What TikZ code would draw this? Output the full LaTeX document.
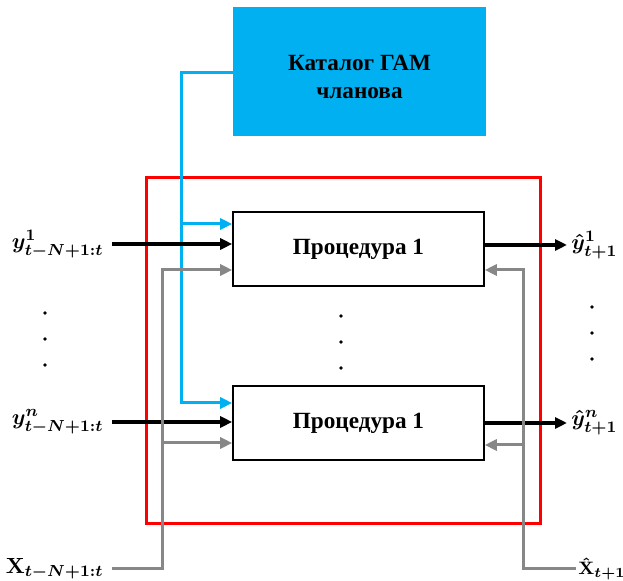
\documentclass[tikz,border=0pt]{standalone}
\usepackage{amsmath}
\usepackage{fontspec}
\setmainfont{Liberation Serif}
\usepackage{tikz}
\usetikzlibrary{arrows.meta,positioning,calc}
\usepackage{xcolor}
\definecolor{catblue}{HTML}{00B0F0}
\definecolor{linegray}{HTML}{878787}
\definecolor{framered}{HTML}{FF0000}
\tikzset{
  procbox/.style={
    draw=black,
    thick,
    fill=white,
    minimum width=125.5pt,
    minimum height=37pt,
    inner sep=0pt,
    align=center,
    font=\fontsize{11.6}{13}\selectfont\bfseries
  },
  catbox/.style={
    fill=catblue,
    minimum width=126.5pt,
    minimum height=64.5pt,
    inner sep=0pt
  },
  cattext/.style={
    align=center,
    yshift=-2.5pt,
    font=\fontsize{11.6}{14}\selectfont\bfseries
  },
  sig/.style={
    font=\fontsize{11}{13}\selectfont\boldmath,
    inner sep=0pt
  },
  arrow/.style={
    -{Triangle[length=6pt,width=5.5pt]},
    line width=1.6pt,
    draw=black
  },
  grayarrow/.style={
    arrow,
    line width=1.5pt,
    draw=linegray
  },
  bluearrow/.style={
    arrow,
    line width=1.5pt,
    draw=catblue
  }
}

\begin{document}
\begin{tikzpicture}[x=0.5pt,y=-0.5pt]
\useasboundingbox (0,0) rectangle (623,581);
% blocks
\node[catbox, label={[cattext]center:Каталог ГАМ\\чланова}] (catalog) at (359.5,71.5) {};
\node[procbox] (proc1) at (358.5,249) {Процедура 1};
\node[procbox] (proc2) at (358.5,423) {Процедура 1};
\draw[framered, line width=1.5pt] (146,178) rectangle (540,524);
% signals
\node[sig, anchor=east] (yin1) at (104,244) {$y^{1}_{t-N+1:t}$};
\node[sig, anchor=east] (yinn) at (104,422) {$y^{n}_{t-N+1:t}$};
\node[sig, anchor=east] (xin) at (104,569) {$\mathbf{X}_{t-N+1:t}$};
\node[sig, anchor=west] (yout1) at (571,245) {$\hat{y}^{1}_{t+1}$};
\node[sig, anchor=west] (youtn) at (571,423) {$\hat{y}^{n}_{t+1}$};
\node[sig, anchor=west, font=\fontsize{9.5}{12}\selectfont\boldmath] (xout) at (578,569) {$\hat{\mathbf{X}}_{t+1}$};
\coordinate (bl) at (181,73);
\coordinate (gl) at (162,270);
\coordinate (gr) at (523,270);
% catalog lines
\draw[bluearrow] (catalog.west |- bl) -- (bl) |- ($(proc2.west)+(0,-20)$);
\draw[bluearrow] (bl |- 0,224) -- ($(proc1.west)+(0,-25)$);
% inputs
\draw[arrow] ([xshift=4pt]yin1.east) -- (yin1.east -| proc1.west);
\draw[arrow] ([xshift=4pt]yinn.east) -- (yinn.east -| proc2.west);
\draw[grayarrow] ([xshift=4pt]xin.east) -| (gl) -- (gl -| proc1.west);
\draw[grayarrow] (gl |- 0,443) -- ($(proc2.west)+(0,20)$);
% outputs
\draw[arrow] (proc1.east |- yout1.west) -- ([xshift=-2pt]yout1.west);
\draw[arrow] (proc2.east |- youtn.west) -- ([xshift=-2pt]youtn.west);
\draw[grayarrow] ([xshift=-1pt]xout.west) -| (gr) -- (gr -| proc1.east);
\draw[grayarrow] (gr |- 0,445) -- ($(proc2.east)+(0,22)$);
% dots
\foreach \dx/\dy in {45/313, 341/316, 592/307} {
  \foreach \k in {0,1,2}
    \fill (\dx,\dy+26*\k) circle (1.8);
}
\end{tikzpicture}
\end{document}
